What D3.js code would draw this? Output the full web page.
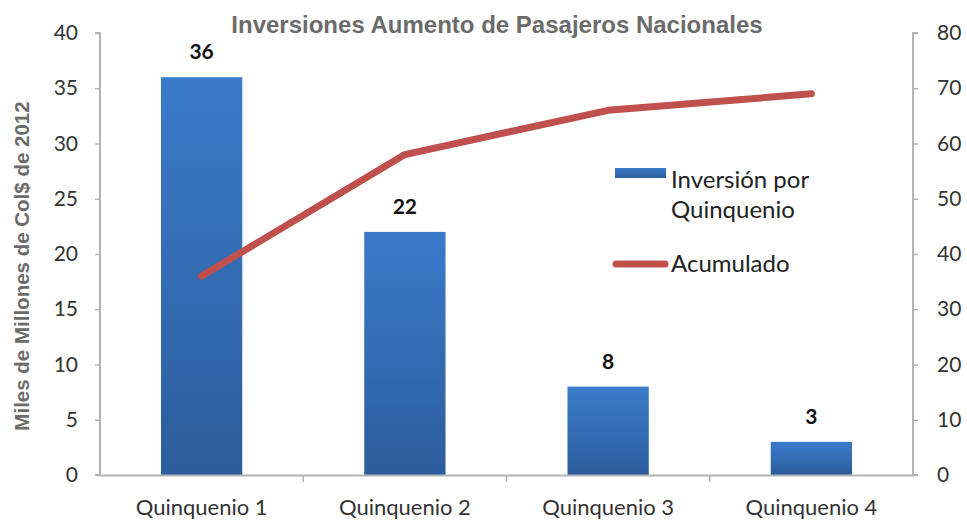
<!DOCTYPE html>
<html>
<head>
<meta charset="utf-8">
<style>
  body { margin: 0; background: #fff; }
  text { font-family: Lato, "Open Sans", sans-serif; }
</style>
</head>
<body>
<svg width="967" height="524"></svg>
<script src="https://d3js.org/d3.v7.min.js"></script>
<script>
var categories = ["Quinquenio 1", "Quinquenio 2", "Quinquenio 3", "Quinquenio 4"];
var inversion = [36, 22, 8, 3];
var acumulado = [36, 58, 66, 69];
var leftTicks = [0, 5, 10, 15, 20, 25, 30, 35, 40];
var rightTicks = [0, 10, 20, 30, 40, 50, 60, 70, 80];

var svg = d3.select("svg");
var mLeft = 100, mRight = 913, mTop = 33, mBottom = 475;

var x = d3.scaleBand().domain(categories).range([mLeft, mRight]).paddingInner(0.6).paddingOuter(0.3);
var yL = d3.scaleLinear().domain([0, 40]).range([mBottom, mTop]);
var yR = d3.scaleLinear().domain([0, 80]).range([mBottom, mTop]);

var defs = svg.append("defs");
var grad = defs.append("linearGradient").attr("id", "barGrad")
    .attr("x1", 0).attr("y1", 0).attr("x2", 0).attr("y2", 1);
grad.append("stop").attr("offset", "0%").attr("stop-color", "#3b7bcb");
grad.append("stop").attr("offset", "100%").attr("stop-color", "#2c5d9c");

// bars
svg.selectAll("rect.bar").data(inversion).enter().append("rect")
    .attr("class", "bar")
    .attr("x", function(d, i) { return x(categories[i]); })
    .attr("width", x.bandwidth())
    .attr("y", function(d) { return yL(d); })
    .attr("height", function(d) { return yL(0) - yL(d); })
    .attr("fill", "url(#barGrad)");

// data labels
svg.selectAll("text.lbl").data(inversion).enter().append("text")
    .attr("class", "lbl")
    .attr("x", function(d, i) { return x(categories[i]) + x.bandwidth() / 2; })
    .attr("y", function(d) { return yL(d) - 18; })
    .attr("text-anchor", "middle")
    .style("font-size", "21px").style("font-weight", "bold").attr("fill", "#111")
    .text(function(d) { return d; });

// line
var line = d3.line()
    .x(function(d, i) { return x(categories[i]) + x.bandwidth() / 2; })
    .y(function(d) { return yR(d); });
svg.append("path").datum(acumulado)
    .attr("d", line).attr("fill", "none")
    .attr("stroke", "#c0504d").attr("stroke-width", 7)
    .attr("stroke-linecap", "round").attr("stroke-linejoin", "round");

// axes
var axisColor = "#b3b3b3";
var gL = svg.append("g").attr("transform", "translate(" + mLeft + ",0)")
    .call(d3.axisLeft(yL).tickValues(leftTicks).tickSize(5).tickPadding(17));
var gR = svg.append("g").attr("transform", "translate(" + mRight + ",0)")
    .call(d3.axisRight(yR).tickValues(rightTicks).tickSize(5).tickPadding(19));
var gX = svg.append("g").attr("transform", "translate(0," + mBottom + ")")
    .call(d3.axisBottom(x).tickSize(0).tickPadding(24));

[gL, gR, gX].forEach(function(g) {
  g.select(".domain").attr("stroke", axisColor).attr("stroke-width", 2);
  g.selectAll(".tick line").attr("stroke", axisColor).attr("stroke-width", 1.5);
  g.selectAll(".tick text").attr("fill", "#333").style("font-size", "21px");
});
gX.selectAll(".tick text").style("font-size", "22px");
gL.select(".domain").attr("d", "M-5," + mTop + "H0V" + mBottom + "H-5");
gR.select(".domain").attr("d", "M5," + mTop + "H0V" + mBottom + "H5");

// category separators
var seps = categories.map(function(c) { return x(c) - x.step() * x.paddingInner() / 2; });
seps.shift();
svg.selectAll("line.sep").data(seps).enter().append("line")
    .attr("class", "sep")
    .attr("x1", function(d) { return d; }).attr("x2", function(d) { return d; })
    .attr("y1", mBottom).attr("y2", mBottom + 7)
    .attr("stroke", axisColor).attr("stroke-width", 1.5);

// title
svg.append("text").attr("x", 497).attr("y", 33).attr("text-anchor", "middle")
    .style("font-family", "Liberation Sans, Arial, sans-serif")
    .style("font-size", "24px").style("font-weight", "bold").attr("fill", "#6b6b6b")
    .text("Inversiones Aumento de Pasajeros Nacionales");

svg.append("text").attr("transform", "translate(29,266) rotate(-90)")
    .attr("text-anchor", "middle")
    .style("font-family", "Liberation Sans, Arial, sans-serif")
    .style("font-size", "20.5px").style("font-weight", "bold").attr("fill", "#6b6b6b")
    .text("Miles de Millones de Col$ de 2012");

// legend
var lg = svg.append("g");
lg.append("rect").attr("x", 615).attr("y", 168).attr("width", 51).attr("height", 10).attr("fill", "url(#barGrad)");
lg.append("text").attr("x", 671).attr("y", 188).style("font-size", "24px").attr("fill", "#222").text("Inversión por");
lg.append("text").attr("x", 671).attr("y", 218).style("font-size", "24px").attr("fill", "#222").text("Quinquenio");
lg.append("line").attr("x1", 616).attr("x2", 665).attr("y1", 264).attr("y2", 264)
    .attr("stroke", "#c0504d").attr("stroke-width", 7).attr("stroke-linecap", "round");
lg.append("text").attr("x", 671).attr("y", 272).style("font-size", "24px").attr("fill", "#222").text("Acumulado");
</script>
</body>
</html>
